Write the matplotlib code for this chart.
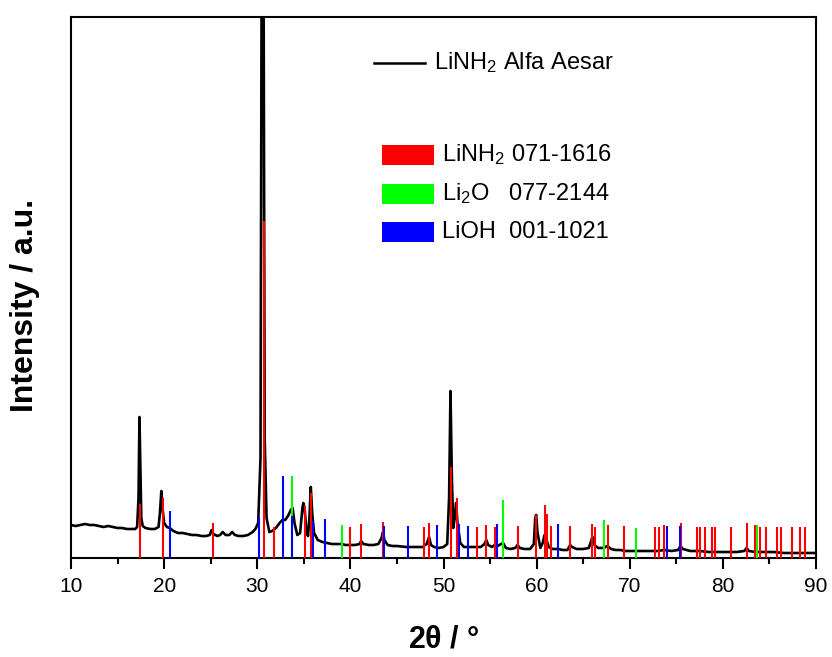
import matplotlib
matplotlib.use("Agg")
import matplotlib.pyplot as plt
from matplotlib.lines import Line2D
from matplotlib.patches import Rectangle

plt.rcParams['font.family'] = ['Liberation Sans', 'DejaVu Sans']
plt.rcParams['mathtext.fontset'] = 'custom'
plt.rcParams['mathtext.rm'] = 'Liberation Sans'
plt.rcParams['mathtext.it'] = 'Liberation Sans:italic'
plt.rcParams['mathtext.bf'] = 'Liberation Sans:bold'

# Measured XRD pattern (2theta, intensity a.u.)
two_theta = [10.0, 10.5, 11, 11.5, 12, 12.5, 13, 13.5, 14, 14.5, 15, 15.5, 16, 16.5, 16.9,
             17.1, 17.25, 17.35, 17.45, 17.55, 17.7, 18, 18.5, 19, 19.4, 19.55, 19.7, 19.85,
             20.0, 20.3, 20.6, 21, 21.5, 22, 22.5, 23, 23.5, 24, 24.5, 24.9, 25.1, 25.3,
             25.7, 26.0, 26.3, 26.6, 27.0, 27.3, 27.6, 28, 28.5, 29, 29.5, 29.8, 30.1,
             30.35, 30.5, 30.65, 30.8, 31.0, 31.3, 31.6, 32, 32.4, 32.7, 33.0, 33.3, 33.6,
             33.8, 34.0, 34.3, 34.6, 34.85, 34.95, 35.1, 35.25, 35.45, 35.6, 35.75, 35.9,
             36.1, 36.5, 37, 37.5, 38, 38.5, 39, 39.5, 40, 40.5, 41.0, 41.15, 41.4, 42,
             42.5, 43, 43.35, 43.5, 43.65, 44, 44.5, 45, 46, 47, 47.8, 48.0, 48.2, 48.45,
             48.65, 49, 49.5, 50, 50.4, 50.6, 50.75, 50.9, 51.05, 51.2, 51.35, 51.5, 51.8,
             52.2, 52.8, 53.5, 54, 54.4, 54.6, 54.8, 55.2, 55.5, 55.8, 56.2, 56.4, 56.7,
             57.2, 57.7, 57.95, 58.2, 58.7, 59.3, 59.7, 59.85, 59.95, 60.1, 60.4, 60.65,
             60.85, 61.0, 61.3, 61.7, 62.3, 62.8, 63.3, 63.6, 63.8, 64.3, 65, 65.6, 65.9,
             66.0, 66.2, 66.6, 67.2, 67.6, 68, 68.5, 69, 69.5, 70, 71, 72, 73, 73.7, 74.5,
             75.2, 75.45, 75.7, 76.5, 77.5, 78.5, 79.5, 80.5, 81.5, 82.3, 82.55, 82.8,
             83.5, 84.5, 85.5, 86.5, 87.5, 88.5, 89.5, 90]
intensity = [33, 32, 33, 34, 33, 33, 32, 31, 32, 31, 30, 30, 29, 29, 29,
             31, 60, 141, 90, 40, 32, 30, 29, 29, 31, 45, 67, 48,
             35, 31, 30, 27, 25, 25, 24, 23, 23, 22, 22, 23, 28, 24,
             22, 23, 26, 23, 23, 26, 23, 22, 22, 23, 26, 29, 35,
             100, 700, 700, 120, 40, 26, 27, 30, 35, 38, 38, 42, 48,
             50, 35, 23, 25, 50, 55, 48, 30, 22, 40, 71, 45,
             25, 18, 16, 15, 14, 14, 14, 13, 13, 13, 14, 17, 14, 13,
             13, 14, 20, 26, 18, 13, 12, 12, 11, 11, 11, 13, 14, 21,
             13, 11, 10, 11, 14, 60, 167, 80, 30, 40, 55, 35, 15,
             11, 11, 11, 11, 14, 18, 13, 11, 13, 12, 14, 15, 10,
             9, 10, 13, 10, 9, 9, 14, 40, 43, 25, 10, 15,
             23, 20, 11, 9, 9, 8, 8, 13, 11, 9, 9, 10, 18,
             21, 13, 10, 10, 12, 9, 8, 8, 7, 7, 7, 7, 7, 8, 7,
             8, 12, 9, 7, 7, 6, 6, 6, 6, 7, 10, 7,
             6, 6, 6, 5, 5, 5, 5, 5]

# Reference patterns (stick positions and heights)
linh2_pos = [17.45, 19.85, 25.2, 30.72, 31.8, 35.1, 35.8, 40.0, 41.14, 43.5, 47.9, 48.44,
             50.8, 51.4, 53.6, 54.56, 55.5, 57.96, 59.93, 60.9, 61.08, 61.54, 63.57, 65.95,
             66.27, 67.7, 69.42, 72.7, 73.14, 73.7, 75.47, 77.2, 77.5, 78.08, 78.83, 79.15,
             80.87, 82.62, 83.48, 84.02, 84.6, 85.85, 86.24, 87.45, 88.3, 88.82]
linh2_int = [54, 60, 35, 337, 31, 52, 65, 31, 34, 36, 31, 35,
             91, 60, 31, 33, 31, 32, 43, 53, 44, 32, 32, 34,
             31, 33, 32, 31, 31, 33, 35, 31, 31, 31, 31, 31,
             31, 35, 33, 31, 31, 31, 31, 31, 31, 31]
li2o_pos = [33.77, 39.1, 56.39, 67.23, 70.64, 83.66]
li2o_int = [82, 33, 58, 38, 30, 33]
lioh_pos = [20.63, 30.19, 32.73, 33.73, 35.95, 37.27, 43.6, 46.19, 49.3, 51.63, 52.63,
            55.74, 62.3, 74.0, 75.4]
lioh_int = [47, 41, 82, 42, 37, 39, 32, 32, 33, 34, 32, 34, 34, 32, 32]

x_ticks = [10, 20, 30, 40, 50, 60, 70, 80, 90]

W, H = 832, 657
fig = plt.figure(figsize=(W / 100, H / 100), dpi=100)
ax = fig.add_axes([71 / W, 1 - 558 / H, (816 - 71) / W, (558 - 17) / H])

ax.plot(two_theta, intensity, color='black', lw=1.9, zorder=2)
ax.vlines(linh2_pos, 0, linh2_int, color='#ff0000', lw=1.5, zorder=3)
ax.vlines(li2o_pos, 0, li2o_int, color='#00ff00', lw=1.5, zorder=4)
ax.vlines(lioh_pos, 0, lioh_int, color='#0000ff', lw=1.5, zorder=5)

ax.set_xlim(10, 90)
ax.set_ylim(0, 541)
ax.set_xticks(x_ticks)
ax.set_xticks([15, 25, 35, 45, 55, 65, 75, 85], minor=True)
ax.tick_params(axis='x', which='major', direction='out', length=8, width=1.5,
               labelsize=15, pad=6)
ax.tick_params(axis='x', which='minor', direction='out', length=4, width=1.5)
ax.set_yticks([])
for s in ax.spines.values():
    s.set_linewidth(1.5)

fig.text(444 / W, 1 - 640 / H, r'2$\mathbf{\theta}$ / °', ha='center', va='center',
         fontsize=22, fontweight='bold')
fig.text(25 / W, 1 - 305 / H, 'Intensity / a.u.', ha='center', va='center',
         rotation=90, fontsize=23, fontweight='bold')

# legends (figure pixel placement)
def fx(px):
    return px / W

def fy(py):
    return 1 - py / H

fig.add_artist(Line2D([fx(374), fx(425)], [fy(63), fy(63)], color='black', lw=1.8,
                      transform=fig.transFigure))
fig.text(fx(434), fy(63), r'LiNH$_2$ Alfa Aesar', ha='left', va='center', fontsize=17)

rows = [(155, '#ff0000', r'LiNH$_2$ 071-1616'),
        (194, '#00ff00', r'Li$_2$O   077-2144'),
        (232, '#0000ff', r'LiOH  001-1021')]
for py, col, lab in rows:
    fig.add_artist(Rectangle((fx(382), fy(py + 10)), (434 - 382) / W, 20 / H,
                             facecolor=col, edgecolor='none', transform=fig.transFigure))
    fig.text(fx(442), fy(py), lab, ha='left', va='center', fontsize=17)

fig.savefig('out.png', dpi=100)
